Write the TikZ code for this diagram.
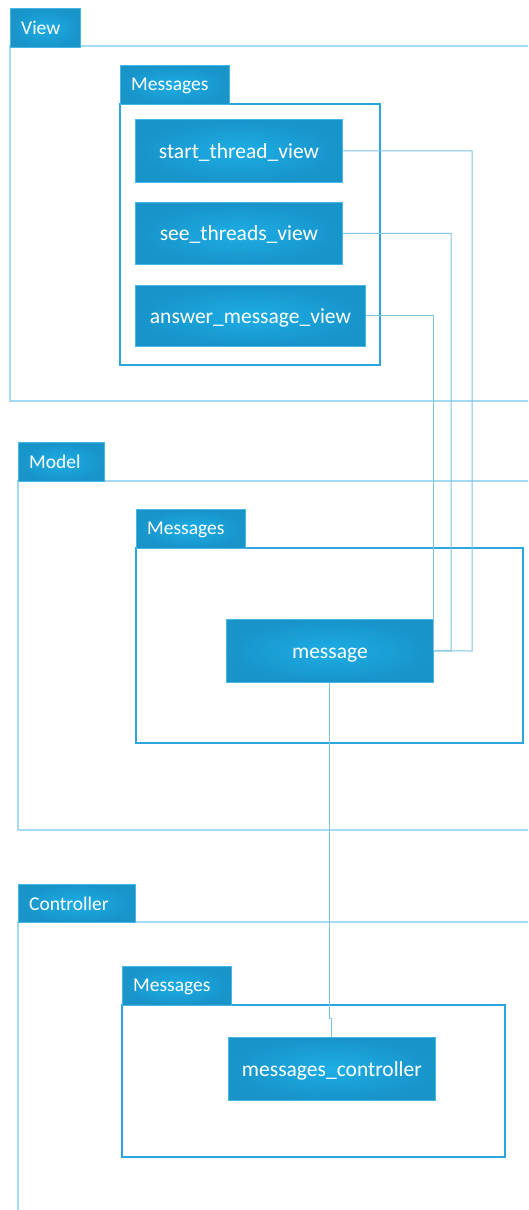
\documentclass[tikz,border=0pt]{standalone}
\usepackage{fontspec}
\setmainfont{Carlito}
\definecolor{boxin}{HTML}{1DADE5}
\definecolor{boxout}{HTML}{1894C9}
\definecolor{boxedge}{HTML}{45B6E6}
\definecolor{pkgline}{HTML}{A6DAF0}
\definecolor{subline}{HTML}{2AA6DD}
\definecolor{conn}{HTML}{7CC3E0}
\begin{document}
\begin{tikzpicture}[x=1pt,y=-1pt,
  blue box/.style={draw=boxedge, line width=0.8pt, inner color=boxin, outer color=boxout, inner sep=0pt, anchor=north west},
  cls/.style={blue box, text=white, font=\fontsize{21.5}{24}\selectfont, minimum height=63pt, text height=15pt, text depth=0pt},
  tabbox/.style={blue box, minimum height=39pt},
  tablabel/.style={text=white, font=\fontsize{19.5}{22}\selectfont, anchor=west, inner sep=0pt},
  pkgbody/.style={draw=pkgline, line width=1.4pt},
  subbody/.style={draw=subline, line width=1.4pt},
  connector/.style={draw=conn, line width=1pt}
]
\useasboundingbox (0,0) rectangle (528,1210);
\clip (0,0) rectangle (528,1210);

% ---------- View package ----------
\draw[pkgbody] (560,46) -- (10,46) -- (10,401) -- (560,401);
\node[tabbox, minimum width=70pt] (viewtab) at (10,8) {};
\node[tablabel] (viewlbl) at ([xshift=11pt]viewtab.west) {View};

\draw[subbody] (120,104) rectangle (380,365);
\node[tabbox, minimum width=109pt] (vmtab) at (120,65) {};
\node[tablabel] (vmlbl) at ([xshift=11pt,yshift=-1.5pt]vmtab.west) {Messages};

\node[cls, minimum width=207pt] (stv) at (135,119) {start\_thread\_view};
\node[cls, minimum width=207pt, minimum height=62pt] (seev) at (135,202) {see\_threads\_view};
\node[cls, minimum width=230pt, minimum height=61pt] (amv) at (135,285) {answer\_message\_view};

% ---------- Model package ----------
\draw[pkgbody] (560,481) -- (18,481) -- (18,830) -- (560,830);
\node[tabbox, minimum width=86pt] (modeltab) at (18,442) {};
\node[tablabel] (modellbl) at ([xshift=11pt]modeltab.west) {Model};

\draw[subbody] (136,548) rectangle (523,743);
\node[tabbox, minimum width=109pt] (mmtab) at (136,509) {};
\node[tablabel] (mmlbl) at ([xshift=11pt,yshift=-1.5pt]mmtab.west) {Messages};

\node[cls, minimum width=207pt] (msg) at (226,619) {message};

% ---------- Controller package ----------
\draw[pkgbody] (560,922) -- (18,922) -- (18,1220);
\node[tabbox, minimum width=117pt, minimum height=38pt] (ctrltab) at (18,884) {};
\node[tablabel] (ctrllbl) at ([xshift=11pt]ctrltab.west) {Controller};

\draw[subbody] (122,1005) rectangle (505,1157);
\node[tabbox, minimum width=109pt] (cmtab) at (122,966) {};
\node[tablabel] (cmlbl) at ([xshift=11pt,yshift=-1.5pt]cmtab.west) {Messages};

\node[cls, minimum width=207pt] (mc) at (228,1037) {messages\_controller};

% ---------- connectors ----------
\coordinate (j1) at (472,651);
\coordinate (j2) at (451,651);
\coordinate (j3) at (433,651);
\draw[connector] (stv.east) -| (j1) -- (msg.east);
\draw[connector] (seev.east) -| (j2) -- (msg.east);
\draw[connector] (amv.east) -| (j3);
\coordinate (jog) at (msg.south |- 0,1018);
\draw[connector] (msg.south) -- (jog) -| (mc.north);
\end{tikzpicture}
\end{document}
